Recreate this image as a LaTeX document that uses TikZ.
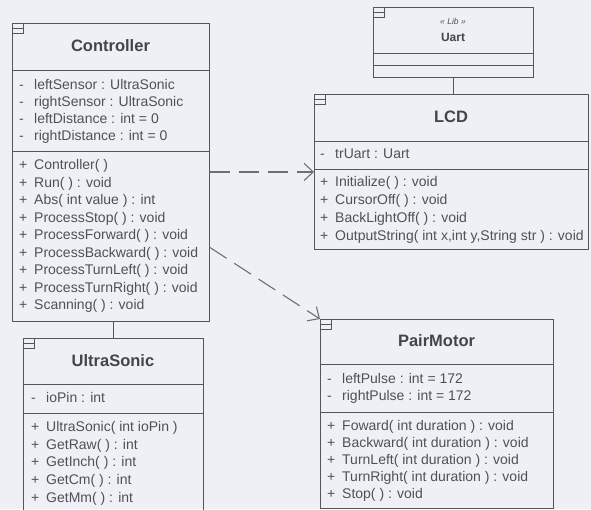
\documentclass[tikz,border=0pt]{standalone}
\usepackage{fontspec}
\setmainfont{Liberation Sans}
\usetikzlibrary{arrows.meta,positioning}
\definecolor{bgcol}{RGB}{239,239,246}
\definecolor{lncol}{RGB}{85,85,92}
\definecolor{txcol}{RGB}{80,80,90}
\newcommand{\vis}[1]{\makebox[15pt][l]{#1}}

\begin{document}
\begin{tikzpicture}[x=1pt,y=-1pt,
  cls/.style={draw=lncol,line width=0.9pt,anchor=north west,inner sep=0pt},
  ttl/.style={font=\fontsize{16.5}{18}\selectfont\bfseries,text=txcol!85!black,inner sep=0pt},
  mem/.style={font=\fontsize{14}{16}\selectfont,text=txcol,anchor=west,inner sep=0pt,text height=10pt,text depth=3pt},
  ln/.style={draw=lncol,line width=0.9pt},
  dep/.style={draw=lncol!85,line width=1.1pt,dash pattern=on 20pt off 9pt,-{Straight Barb[length=9pt,width=17pt]}}]
\fill[bgcol] (0,0) rectangle (591,509);
\useasboundingbox (0,0) rectangle (591,509);
% Controller
\node[cls,minimum width=197pt,minimum height=298pt] (ctrl) at (12,23) {};
\node[ttl] (ctrlname) at (110.5,46) {Controller};
\draw[ln] (ctrl.west |- 0,70) -- (ctrl.east |- 0,70);
\draw[ln] (ctrl.west |- 0,151) -- (ctrl.east |- 0,151);
\foreach \t [count=\i] in {leftSensor : UltraSonic, rightSensor : UltraSonic,
    leftDistance : int = 0, rightDistance : int = 0}
  \node[mem] (ctrla\i) at (19,69+17*\i) {\vis{-}\t};
\foreach \t [count=\i] in {Controller( ), Run( ) : void, Abs( int value ) : int,
    ProcessStop( ) : void, ProcessForward( ) : void, ProcessBackward( ) : void,
    ProcessTurnLeft( ) : void, ProcessTurnRight( ) : void, Scanning( ) : void}
  \node[mem] (ctrlm\i) at (19,148.5+17.5*\i) {\vis{+}\t};
% UltraSonic
\node[cls,minimum width=180pt,minimum height=175pt] (us) at (23,338) {};
\node[ttl] (usname) at (113,361) {UltraSonic};
\draw[ln] (us.west |- 0,384) -- (us.east |- 0,384);
\draw[ln] (us.west |- 0,413) -- (us.east |- 0,413);
\node[mem] (usa1) at (31,399) {\vis{-}ioPin : int};
\foreach \t [count=\i] in {UltraSonic( int ioPin ), GetRaw( ) : int, GetInch( ) : int,
    GetCm( ) : int, GetMm( ) : int}
  \node[mem] (usm\i) at (31,410.3+17.7*\i) {\vis{+}\t};
% Uart
\node[cls,minimum width=160pt,minimum height=70pt] (uart) at (373,7) {};
\node[font=\fontsize{8.5}{9}\selectfont\itshape,text=txcol,inner sep=0pt] (uartst) at (453,21) {<<~Lib~>>};
\node[font=\fontsize{12}{14}\selectfont\bfseries,text=txcol!85!black,inner sep=0pt] (uartname) at (453,37) {Uart};
\draw[ln] (uart.west |- 0,53) -- (uart.east |- 0,53);
\draw[ln] (uart.west |- 0,65) -- (uart.east |- 0,65);
% LCD
\node[cls,minimum width=274pt,minimum height=155pt] (lcd) at (314,94) {};
\node[ttl] (lcdname) at (451,117) {LCD};
\draw[ln] (lcd.west |- 0,141) -- (lcd.east |- 0,141);
\draw[ln] (lcd.west |- 0,169) -- (lcd.east |- 0,169);
\node[mem] (lcda1) at (320,155) {\vis{-}trUart : Uart};
\foreach \t [count=\i] in {Initialize( ) : void, CursorOff( ) : void, BackLightOff( ) : void,
    {OutputString( int x,int y,String str ) : void}}
  \node[mem] (lcdm\i) at (320,165+18*\i) {\vis{+}\t};
% PairMotor
\node[cls,minimum width=233pt,minimum height=189pt] (pm) at (320,319) {};
\node[ttl] (pmname) at (436.5,341) {PairMotor};
\draw[ln] (pm.west |- 0,364) -- (pm.east |- 0,364);
\draw[ln] (pm.west |- 0,412) -- (pm.east |- 0,412);
\foreach \t [count=\i] in {leftPulse : int = 172, rightPulse : int = 172}
  \node[mem] (pma\i) at (327,363+17*\i) {\vis{-}\t};
\foreach \t [count=\i] in {Foward( int duration ) : void, Backward( int duration ) : void,
    TurnLeft( int duration ) : void, TurnRight( int duration ) : void, Stop( ) : void}
  \node[mem] (pmm\i) at (327,410+17*\i) {\vis{+}\t};
% class icons
\foreach \n in {ctrl,us,uart,lcd,pm}
  \draw[ln,line width=0.7pt] (\n.north west) rectangle ++(11,10) (\n.north west) ++(0,5) -- ++(11,0);
% links
\draw[ln] (ctrl.south -| us.north) -- (us.north);
\draw[ln] (uart.south) -- (uart.south |- lcd.north);
\draw[dep] (ctrl.east |- lcd.west) -- (lcd.west);
\draw[dep] ([yshift=-75pt]ctrl.east) -- (pm.north west);
\end{tikzpicture}
\end{document}
